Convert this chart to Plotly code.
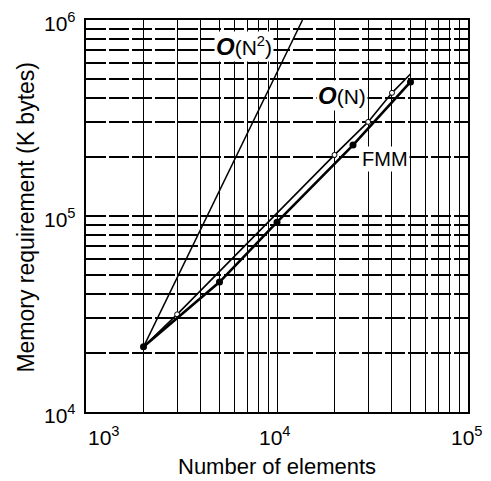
import math
import plotly.graph_objects as go

# ---- data ----
fmm_n = [2000, 5000, 10000, 25000, 50000]
fmm_kb = [21500, 46000, 93000, 230000, 483000]

on_n = [2000, 3000, 20000, 30000, 40000, 50000]
on_kb = [21500, 31500, 205000, 302000, 425000, 530000]

on2_n = [2000, 13600]
on2_kb = [21500, 1000000]

x_decades = [1000, 10000, 100000]
x_labels = ["10<sup>3</sup>", "10<sup>4</sup>", "10<sup>5</sup>"]
y_decades = [10000, 100000, 1000000]
y_labels = ["10<sup>4</sup>", "10<sup>5</sup>", "10<sup>6</sup>"]

x_grid = [m * d for d in [1000, 10000] for m in range(1, 10)] + [100000]
y_grid = [m * d for d in [10000, 100000] for m in range(1, 10)] + [1000000]

FONT = "Liberation Sans, Arial, sans-serif"

fig = go.Figure()

# O(N^2)
fig.add_trace(go.Scatter(x=on2_n, y=on2_kb, mode="lines",
                         line=dict(color="black", width=1.5), showlegend=False))
# O(N)
fig.add_trace(go.Scatter(x=on_n, y=on_kb, mode="lines",
                         line=dict(color="black", width=1.6), showlegend=False))
fig.add_trace(go.Scatter(x=on_n[1:-1], y=on_kb[1:-1], mode="markers",
                         marker=dict(symbol="circle", size=5, color="white",
                                     line=dict(color="black", width=1)),
                         showlegend=False))
# FMM
fig.add_trace(go.Scatter(x=fmm_n, y=fmm_kb, mode="lines+markers",
                         line=dict(color="black", width=2.6),
                         marker=dict(symbol="circle", size=7, color="black"),
                         showlegend=False))

fig.update_xaxes(type="log", range=[3, 5], tickvals=x_grid, showticklabels=False,
                 ticks="", showgrid=True, gridcolor="black", gridwidth=1.3,
                 showline=True, linecolor="black", linewidth=2, mirror=True,
                 zeroline=False)
fig.update_yaxes(type="log", range=[4, 6], tickvals=y_grid, showticklabels=False,
                 ticks="", showgrid=True, gridcolor="black", gridwidth=1.6,
                 griddash="20px,3px",
                 showline=True, linecolor="black", linewidth=2, mirror=True,
                 zeroline=False)

ann = []
# x tick labels
xanch = ["left", "center", "center"]
xsh = [0, -2, -1]
for v, t, a, s in zip(x_decades, x_labels, xanch, xsh):
    ann.append(dict(x=math.log10(v), y=-0.061, xref="x", yref="paper", text=t,
                    showarrow=False, xanchor=a, yanchor="middle", xshift=s,
                    font=dict(family=FONT, size=21, color="black")))
# y tick labels
for v, t in zip(y_decades, y_labels):
    ann.append(dict(x=0, y=math.log10(v), xref="paper", yref="y", text=t,
                    showarrow=False, xanchor="right", yanchor="middle",
                    xshift=-8, yshift=-2,
                    font=dict(family=FONT, size=21, color="black")))
# axis titles
ann.append(dict(x=0.5, y=-0.138, xref="paper", yref="paper",
                text="Number of elements", showarrow=False,
                xanchor="center", yanchor="middle",
                font=dict(family=FONT, size=22, color="black")))
ann.append(dict(x=-0.157, y=0.496, xref="paper", yref="paper",
                text="Memory requirement (K bytes)", showarrow=False,
                textangle=-90, xanchor="center", yanchor="middle",
                font=dict(family=FONT, size=23, color="black")))
# curve labels
ann.append(dict(x=3.827, y=5.867, xref="x", yref="y",
                text="<span style='font-size:24px'><b><i>O</i></b></span>(N<sup>2</sup>)",
                showarrow=False, bgcolor="white", borderpad=1,
                font=dict(family=FONT, size=21, color="black")))
ann.append(dict(x=4.340, y=5.617, xref="x", yref="y",
                text="<span style='font-size:24px'><b><i>O</i></b></span>(N)",
                showarrow=False, bgcolor="white", borderpad=1,
                font=dict(family=FONT, size=21, color="black")))
ann.append(dict(x=4.565, y=5.291, xref="x", yref="y",
                text="FMM", showarrow=False,
                bgcolor="white", borderpad=1,
                font=dict(family=FONT, size=20, color="black")))

fig.update_layout(width=491, height=481,
                  margin=dict(l=86, r=23, t=20, b=69),
                  paper_bgcolor="white", plot_bgcolor="white",
                  annotations=ann, showlegend=False)

# remove the default 8px page margin so the figure fills the window exactly
fig.write_html("out.html", config={"displayModeBar": False},
               post_script="document.body.style.margin='0px';")
